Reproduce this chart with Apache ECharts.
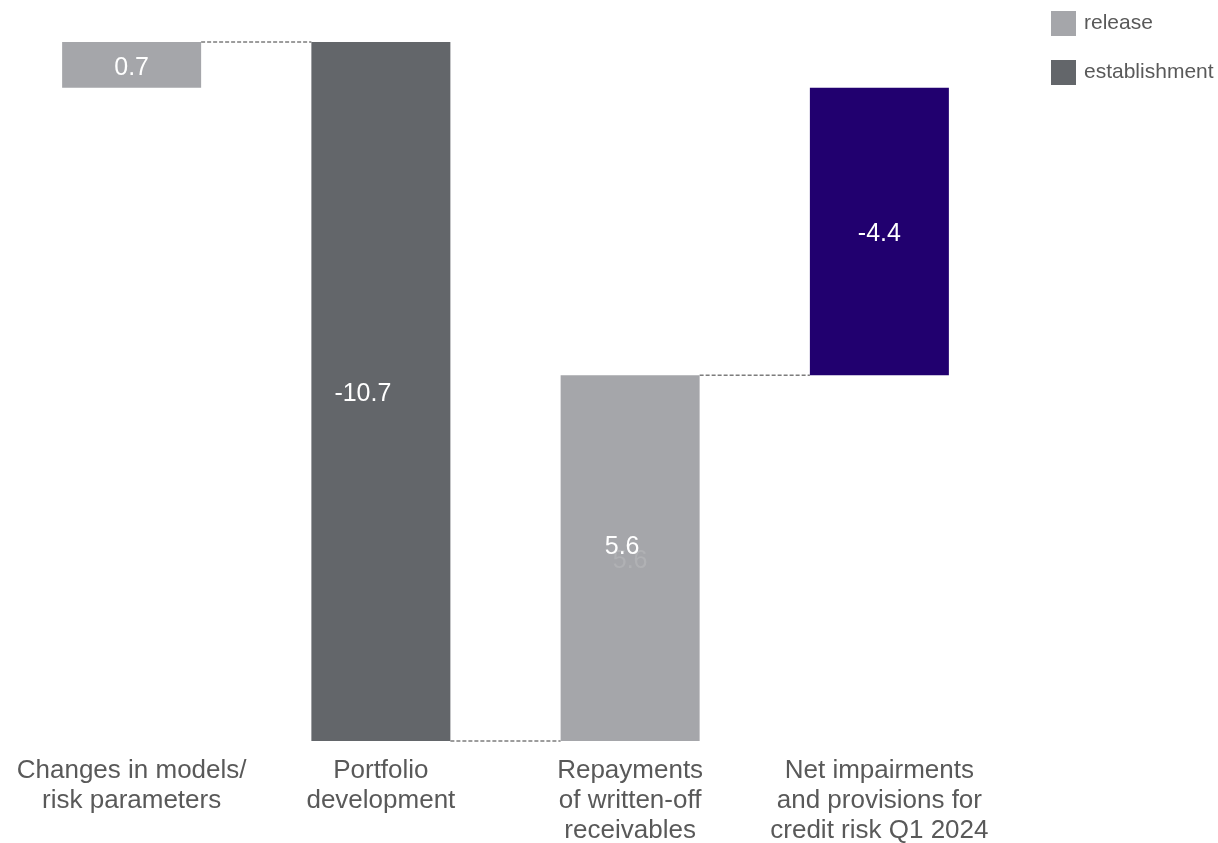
<!DOCTYPE html>
<html>
<head>
<meta charset="utf-8">
<script src="https://cdn.jsdelivr.net/npm/echarts@6/dist/echarts.min.js"></script>
<style>
html,body{margin:0;padding:0;background:#fff;}
#chart{width:1218px;height:843px;}
</style>
</head>
<body>
<div id="chart"></div>
<script>
const FONT = 'Liberation Sans, Arial, sans-serif';

// 类目与数值
const categories = [
	'Changes in models/\nrisk parameters',
	'Portfolio\ndevelopment',
	'Repayments\nof written-off\nreceivables',
	'Net impairments\nand provisions for\ncredit risk Q1 2024'
];
const changes = [0.7, -10.7, 5.6];
const totalValue = -4.4;
const legendNames = ['release', 'establishment'];

// 计算瀑布图各段 (空位用0, 'all'堆叠遇到空值会变NaN)
let baseData = [], releaseData = [], establishData = [], totalData = [], connectors = [];
let running = 0;
changes.forEach(function(v, i){
	let start = running;
	let end = +(running + v).toFixed(2);
	baseData.push(Math.min(start, end));
	releaseData.push(v > 0 ? Math.abs(v) : 0);
	establishData.push(v < 0 ? Math.abs(v) : 0);
	totalData.push(0);
	connectors.push([i, end]);
	running = end;
});
baseData.push(Math.min(0, totalValue));
releaseData.push(0);
establishData.push(0);
totalData.push(Math.abs(totalValue));

const labelValues = changes.concat([totalValue]);
// 标签偏移(与原图一致), 第3根柱子的标签单独画(带重影)
const labelOffset = {1: [-18, 3]};
const SPECIAL_IDX = 2;

function withLabels(arr){
	return arr.map(function(v, i){
		if(v === 0 || i === SPECIAL_IDX) return {value: v, label: {show: false}};
		return {value: v, label: {offset: labelOffset[i] || [0, 3]}};
	});
}

const valueLabel = {
	show: true,
	position: 'inside',
	color: '#fff',
	fontSize: 25,
	fontFamily: FONT,
	formatter: function(p){ return String(labelValues[p.dataIndex]); }
};

let chart = echarts.init(document.getElementById('chart'));
chart.setOption({
	animation: false,
	grid: {left: 7, right: 214, top: 42, bottom: 102, outerBoundsMode: 'none'},
	legend: {
		data: legendNames,
		orient: 'vertical',
		left: 1046,
		top: 6,
		itemWidth: 25,
		itemHeight: 25,
		itemGap: 24,
		icon: 'rect',
		textStyle: {fontSize: 21, color: '#595959', fontFamily: FONT, padding: [0, 0, 3, 3]}
	},
	xAxis: {
		type: 'category',
		data: categories,
		axisLine: {show: false},
		axisTick: {show: false},
		axisLabel: {
			interval: 0,
			margin: 15,
			fontSize: 26,
			lineHeight: 30,
			color: '#595959',
			fontFamily: FONT
		}
	},
	yAxis: {
		type: 'value',
		min: -10,
		max: 0.7,
		show: false,
		splitLine: {show: false}
	},
	series: [
		{
			name: 'base', type: 'bar', stack: 'wf', stackStrategy: 'all',
			barWidth: 139, itemStyle: {color: 'transparent'},
			data: baseData, silent: true
		},
		{
			name: 'release', type: 'bar', stack: 'wf', stackStrategy: 'all',
			barWidth: 139, itemStyle: {color: '#a5a6aa'},
			label: valueLabel, data: withLabels(releaseData)
		},
		{
			name: 'establishment', type: 'bar', stack: 'wf', stackStrategy: 'all',
			barWidth: 139, itemStyle: {color: '#63666a'},
			label: valueLabel, data: withLabels(establishData)
		},
		{
			name: 'total', type: 'bar', stack: 'wf', stackStrategy: 'all',
			barWidth: 139, itemStyle: {color: '#21006f'},
			label: valueLabel, data: withLabels(totalData)
		},
		{
			// 连接虚线
			name: 'connector', type: 'custom', silent: true,
			data: connectors,
			renderItem: function(params, api){
				let p = api.coord([api.value(0), api.value(1)]);
				let band = api.size([1, 0])[0];
				let half = 139 / 2;
				return {
					type: 'line',
					shape: {x1: p[0] + half, y1: p[1], x2: p[0] + band - half, y2: p[1]},
					style: {stroke: '#3a3a3a', lineWidth: 1, lineDash: [4, 2]}
				};
			}
		},
		{
			// 第三根柱子的标签: 先画淡色重影, 再画白字
			name: 'label3', type: 'custom', silent: true, z: 3,
			data: [[SPECIAL_IDX, baseData[SPECIAL_IDX] + Math.abs(changes[SPECIAL_IDX]) / 2]],
			renderItem: function(params, api){
				let p = api.coord([api.value(0), api.value(1)]);
				let txt = String(labelValues[SPECIAL_IDX]);
				return {
					type: 'group',
					children: [{
						type: 'text',
						style: {
							x: p[0], y: p[1] + 3, text: txt,
							align: 'center', verticalAlign: 'middle',
							fill: '#b0b1b4', font: '25px ' + FONT
						}
					}, {
						type: 'text',
						style: {
							x: p[0] - 8, y: p[1] - 11, text: txt,
							align: 'center', verticalAlign: 'middle',
							fill: '#fff', font: '25px ' + FONT
						}
					}]
				};
			}
		}
	]
});
</script>
</body>
</html>
